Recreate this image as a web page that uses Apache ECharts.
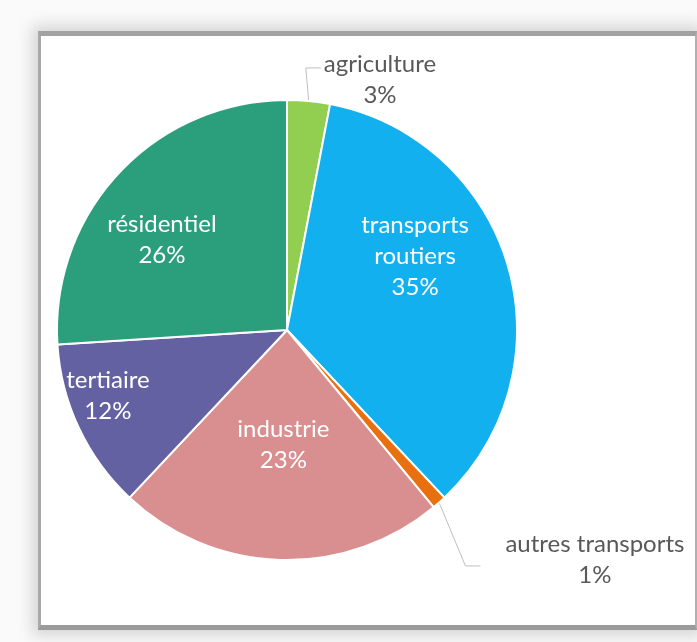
<!DOCTYPE html>
<html><head><meta charset="utf-8">
<script src="https://cdn.jsdelivr.net/npm/echarts@6/dist/echarts.min.js"></script>
<style>
html,body{margin:0;padding:0;background:#fafafa;width:697px;height:642px;overflow:hidden}
#frame{position:absolute;left:38px;top:31px;width:654px;height:589px;background:#fff;border-left:3px solid #a9a9a9;border-top:5px solid #a2a2a2;border-bottom:5px solid #9b9b9b;border-right:2px solid #b0b0b0;box-shadow:0 0 14px 6px #d6d6d6;}
#chart{position:absolute;left:0;top:0;width:697px;height:642px}
</style></head>
<body><div id="frame"></div><div id="chart"></div>
<script>
// ---- data ----
const categories = ['agriculture', 'transports routiers', 'autres transports', 'industrie', 'tertiaire', 'résidentiel'];
const labelNames = ['agriculture', 'transports\nroutiers', 'autres transports', 'industrie', 'tertiaire', 'résidentiel'];
const values = [3, 35, 1, 23, 12, 26];

// ---- style ----
const colors = ['#92cf50', '#12b0ee', '#e8700e', '#d98f90', '#6461a2', '#2b9f7b'];
const labelInside = [false, true, false, true, true, true];
const labelRadiusFrac = [1.16, 0.643, 1.671, 0.5, 0.83, 0.67];
const labelAngleShift = [15.0, -13.8, -11.85, 0, 4.96, -7.45];
const lineGap = [3, 0, 25, 0, 0, 0];
const lineYOffset = [-12, 0, 6, 0, 0, 0];
const lineElbow = 15;
const CX = 287, CY = 330, R = 230;

const total = values.reduce((a, b) => a + b, 0);
const midAngles = [];
let cum = 0;
values.forEach(v => { midAngles.push((cum + v / 2) / total * 360); cum += v; });
const polar = (r, deg) => [CX + r * Math.sin(deg * Math.PI / 180), CY - r * Math.cos(deg * Math.PI / 180)];

const chart = echarts.init(document.getElementById('chart'), null, {renderer: 'canvas'});
chart.setOption({
  backgroundColor: 'transparent',
  animation: false,
  series: [{
    type: 'pie',
    center: [CX, CY],
    radius: [0, R],
    startAngle: 90,
    clockwise: true,
    avoidLabelOverlap: false,
    itemStyle: {borderColor: '#ffffff', borderWidth: 2},
    label: {
      fontFamily: 'Lato', fontSize: 24, lineHeight: 31,
      formatter: p => labelNames[p.dataIndex] + '\n' + Math.round(p.percent) + '%'
    },
    labelLine: {show: true, length: 30, length2: 15, lineStyle: {color: '#bfbfbf', width: 1}},
    labelLayout: function (p) {
      const i = p.dataIndex;
      const pos = polar(labelRadiusFrac[i] * R, midAngles[i] + labelAngleShift[i]);
      const out = {x: pos[0], y: pos[1], align: 'center', verticalAlign: 'middle'};
      if (!labelInside[i]) {
        const endX = pos[0] - p.labelRect.width / 2 - lineGap[i];
        const endY = pos[1] + lineYOffset[i];
        out.labelLinePoints = [polar(R, midAngles[i]), [endX - lineElbow, endY], [endX, endY]];
      }
      return out;
    },
    data: categories.map((c, i) => ({
      name: c,
      value: values[i],
      itemStyle: {color: colors[i]},
      label: {position: labelInside[i] ? 'inside' : 'outside', color: labelInside[i] ? '#ffffff' : '#595959'},
      labelLine: {show: !labelInside[i]}
    }))
  }]
});
</script>
</body></html>
